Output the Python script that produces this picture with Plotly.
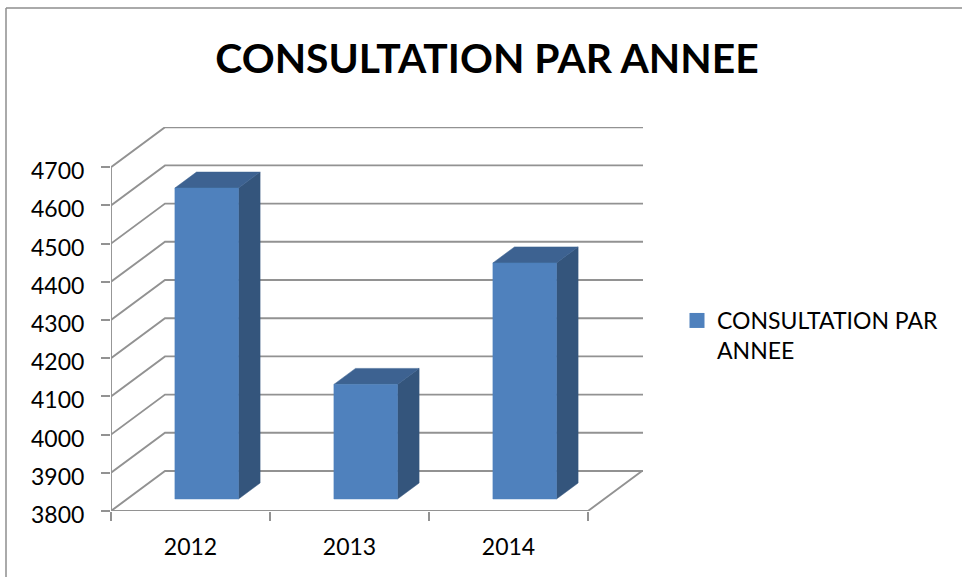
import plotly.graph_objects as go

# Data
years = ["2012", "2013", "2014"]
consultations = [4614, 4100, 4418]
value_ticks = [3800, 3900, 4000, 4100, 4200, 4300, 4400, 4500, 4600, 4700]
series_name = "CONSULTATION PAR<br>ANNEE"
title_text = "CONSULTATION PAR ANNEE"

# Style / oblique projection
W, H = 962, 577
L, R, T, B = 111, 319, 127, 66
CAT_PX = 159.0
VAL_PX = 0.382
DEPTH_X = 54 / CAT_PX
DEPTH_Y = 40 / VAL_PX
BASE = value_ticks[0]
TOP = value_ticks[-1]
BAR_W = 0.4
D0, D1 = 0.30, 0.70
X_MAX = (W - L - R) / CAT_PX
FONT = "Lato"
GRID = "#929292"
FRONT, SIDE, ROOF = "#4F81BD", "#34557C", "#3D6291"


def proj(x, v, d):
    return x + d * DEPTH_X, v + d * DEPTH_Y


def poly(points):
    pts = [proj(*p) for p in points]
    return [p[0] for p in pts], [p[1] for p in pts]


def line(points, width=1.9):
    xs, ys = poly(points)
    return go.Scatter(x=xs, y=ys, mode="lines", line=dict(color=GRID, width=width),
                      showlegend=False, hoverinfo="skip", cliponaxis=False)


def face(points, color):
    xs, ys = poly(points + points[:1])
    return go.Scatter(x=xs, y=ys, mode="lines", fill="toself", fillcolor=color,
                      line=dict(color=color, width=0.5), showlegend=False,
                      hoverinfo="skip", cliponaxis=False)


fig = go.Figure()
n = len(years)

# Walls and floor
for v in value_ticks:
    fig.add_trace(line([(0, v, 0), (0, v, 1), (X_MAX - DEPTH_X, v, 1)]))
fig.add_trace(line([(0, BASE, 0), (0, TOP, 0)]))
fig.add_trace(line([(0, BASE, 0), (n, BASE, 0), (n, BASE, 1)]))

# Bars
for i, val in enumerate(consultations):
    x0, x1 = i + 0.5 - BAR_W / 2, i + 0.5 + BAR_W / 2
    fig.add_trace(face([(x1, BASE, D0), (x1, BASE, D1), (x1, val, D1), (x1, val, D0)], SIDE))
    fig.add_trace(face([(x0, val, D0), (x0, val, D1), (x1, val, D1), (x1, val, D0)], ROOF))
    fig.add_trace(face([(x0, BASE, D0), (x1, BASE, D0), (x1, val, D0), (x0, val, D0)], FRONT))

# Legend entry
fig.add_trace(go.Scatter(x=[None], y=[None], mode="markers", name=series_name,
                         marker=dict(symbol="square", size=15, color=FRONT)))

fig.update_layout(
    width=W, height=H,
    margin=dict(l=L, r=R, t=T, b=B, pad=0),
    paper_bgcolor="white", plot_bgcolor="white",
    font=dict(family=FONT, size=23, color="black"),
    title=dict(text=title_text, x=487 / W, y=1 - 59 / H, xref="container", yref="container",
               xanchor="center", yanchor="middle",
               font=dict(family=FONT, size=40.8, color="black", weight="bold")),
    xaxis=dict(range=[0, X_MAX], showgrid=False, zeroline=False, showline=False,
               tickmode="array", tickvals=[i + 0.5 for i in range(n)], ticktext=years,
               ticks="", ticklen=0, ticklabelstandoff=20,
               minor=dict(tickmode="array", tickvals=list(range(n + 1)), ticks="outside",
                          ticklen=9, tickwidth=1.6, tickcolor=GRID)),
    yaxis=dict(range=[BASE, BASE + (H - T - B) / VAL_PX], showgrid=False, zeroline=False,
               showline=False, tickmode="array", tickvals=value_ticks,
               ticks="outside", ticklen=9, tickwidth=1.6, tickcolor=GRID,
               ticklabelstandoff=12, ticklabelshift=4),
    legend=dict(x=(677 - L) / (W - L - R), y=1 - (299 - T) / (H - T - B),
                xanchor="left", yanchor="top", valign="top",
                bgcolor="rgba(0,0,0,0)", font=dict(family=FONT, size=23)),
    shapes=[
        dict(type="line", xref="paper", yref="paper", layer="below",
             x0=(6 - L) / (W - L - R), x1=(6 - L) / (W - L - R),
             y0=-B / (H - T - B), y1=1 + (T - 8) / (H - T - B),
             line=dict(color="#8e8e8e", width=1.5)),
        dict(type="line", xref="paper", yref="paper", layer="below",
             x0=(6 - L) / (W - L - R), x1=(W - L) / (W - L - R),
             y0=1 + (T - 8) / (H - T - B), y1=1 + (T - 8) / (H - T - B),
             line=dict(color="#8e8e8e", width=1.5)),
    ],
)

fig.write_html("out.html", config={"displayModeBar": False},
               post_script="document.body.style.margin='0';document.body.style.overflow='hidden';")
